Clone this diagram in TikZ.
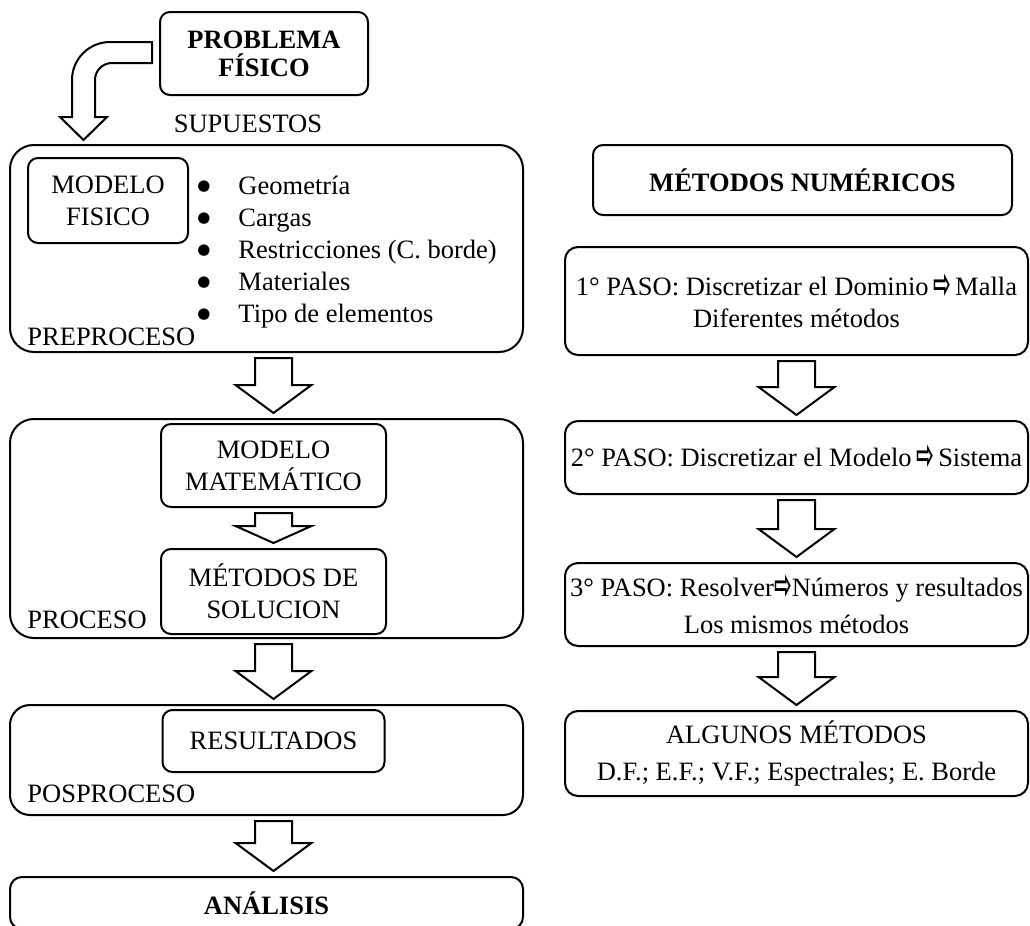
\documentclass[tikz,border=0pt]{standalone}
\usepackage{fontspec}
\setmainfont{Liberation Serif}
\newfontfamily\symfont{DejaVu Sans}
\usepackage{graphicx}
\usetikzlibrary{positioning}
\usetikzlibrary{calc}
\newcommand{\tam}{\fontsize{13.25}{16}\selectfont}
\newcommand{\flecha}{\raisebox{-0.25ex}{\scalebox{0.8}[1.6]{\symfont\bfseries ⇨}}}
\newcommand{\punto}{\raisebox{2.4pt}{\symfont\fontsize{7.5}{7.5}\selectfont ●}}
\tikzset{box/.style = {draw, rounded corners=5pt, line width=1pt, align=center, text centered}}
\tikzset{frame/.style = {draw, rounded corners=12pt, line width=1pt}}
\tikzset{paso/.style = {draw, rounded corners=6.5pt, line width=1pt, align=center, text centered, inner xsep=1pt, minimum width=231.5pt}}
\tikzset{tag/.style = {inner sep=0pt}}
\tikzset{hollow/.style = {draw, line width=1pt, fill=white}}
% hollow block arrow: start point, tip point, head length
\newcommand{\bigarrow}[3]{%
  \draw[hollow] let \p1 = (#1), \p2 = (#2) in
    (\x2-9.25pt, \y1-2.5pt) -- (\x2-9.25pt, \y2+2.5pt+#3)
    -- (\x2-19pt, \y2+2.5pt+#3) -- (\x2, \y2+2.5pt)
    -- (\x2+19pt, \y2+2.5pt+#3) -- (\x2+9.25pt, \y2+2.5pt+#3)
    -- (\x2+9.25pt, \y1-2.5pt) -- cycle;}

\begin{document}
\begin{tikzpicture}[x=0.5pt, y=0.5pt, font=\tam]
\useasboundingbox (0,0) rectangle (1030,-926);

\node[box, font=\tam\bfseries, minimum width=104pt, minimum height=41.5pt] (prob) at (264,-53.5) {PROBLEMA\\[-2pt]FÍSICO};
\node[tag, anchor=base] (sup) at ($(prob.south)+(-8pt,-18pt)$) {SUPUESTOS};

% left column
\node[frame, minimum width=256.5pt, minimum height=103.5pt] (pre) at (266.5,-248.5) {};
\node[box, minimum width=80pt, minimum height=42.5pt, below right=6.5pt and 9pt of pre.north west] (mfis) {MODELO\\FISICO};
\node[tag, align=left, anchor=north west] (lista) at (197,-176) {%
  \punto\hspace{14pt}Geometría\\
  \punto\hspace{14pt}Cargas\\
  \punto\hspace{14pt}Restricciones (C. borde)\\
  \punto\hspace{14pt}Materiales\\
  \punto\hspace{14pt}Tipo de elementos};
\node[tag, anchor=base west] (tpre) at ($(pre.south west)+(9pt,4pt)$) {PREPROCESO};

\node[frame, minimum width=256.5pt, minimum height=109.5pt, below=32.5pt of pre] (proc) {};
\node[box, minimum width=112.5pt, minimum height=41.5pt, below=2.5pt of proc.north, xshift=3.5pt] (mmat) {MODELO\\MATEMÁTICO};
\node[box, minimum width=112.5pt, minimum height=42.5pt, below=20pt of mmat] (msol) {MÉTODOS DE\\SOLUCION};
\node[tag, anchor=base west] (tproc) at ($(proc.south west)+(9pt,5.5pt)$) {PROCESO};

\node[frame, rounded corners=10pt, minimum width=256.5pt, minimum height=55pt, below=32.5pt of proc] (pos) {};
\node[box, minimum width=111pt, minimum height=31pt, below=2.5pt of pos.north, xshift=3.5pt] (res) {RESULTADOS};
\node[tag, anchor=base west] (tpos) at ($(pos.south west)+(9pt,7pt)$) {POSPROCESO};

\node[box, font=\tam\bfseries, rounded corners=6pt, minimum width=256.5pt, minimum height=26pt, below=30pt of pos] (ana) {ANÁLISIS};

% right column
\node[box, font=\tam\bfseries, minimum width=209.5pt, minimum height=35pt] (mnum) at (802.5,-180) {MÉTODOS NUMÉRICOS};
\node[paso, minimum height=54pt, below=15pt of mnum, xshift=-3pt] (p1) {1° PASO: Discretizar el Dominio\,\flecha\,Malla\\Diferentes métodos};
\node[paso, minimum height=36.5pt, below=32pt of p1] (p2) {2° PASO: Discretizar el Modelo\,\flecha\,Sistema};
\node[paso, minimum height=41.5pt, below=33.5pt of p2] (p3) {3° PASO: Resolver\flecha Números y resultados\\[2.5pt]Los mismos métodos};
\node[paso, minimum height=42.5pt, below=31.5pt of p3] (alg) {ALGUNOS MÉTODOS\\[2.5pt]D.F.; E.F.; V.F.; Espectrales; E. Borde};

% bent arrow from the problem
\draw[hollow] ($(prob.west)+(-7,11.5)$) -- ++(-42,0)
  arc[start angle=90, end angle=180, radius=19pt] -- ++(0,-37)
  -- ++(-12,0) -- ++(23.5,-23) -- ++(23.5,23) -- ++(-12,0) -- ++(0,37)
  arc[start angle=180, end angle=90, radius=8.5pt] -- ++(40,0) -- cycle;

\bigarrow{pre.south -| mmat}{proc.north -| mmat}{14pt}
\bigarrow{mmat.south}{msol.north}{8.5pt}
\bigarrow{proc.south -| msol}{pos.north -| msol}{14pt}
\bigarrow{pos.south -| res}{ana.north -| res}{14pt}
\bigarrow{p1.south}{p2.north}{14pt}
\bigarrow{p2.south}{p3.north}{14pt}
\bigarrow{p3.south}{alg.north}{14pt}

\end{tikzpicture}
\end{document}
